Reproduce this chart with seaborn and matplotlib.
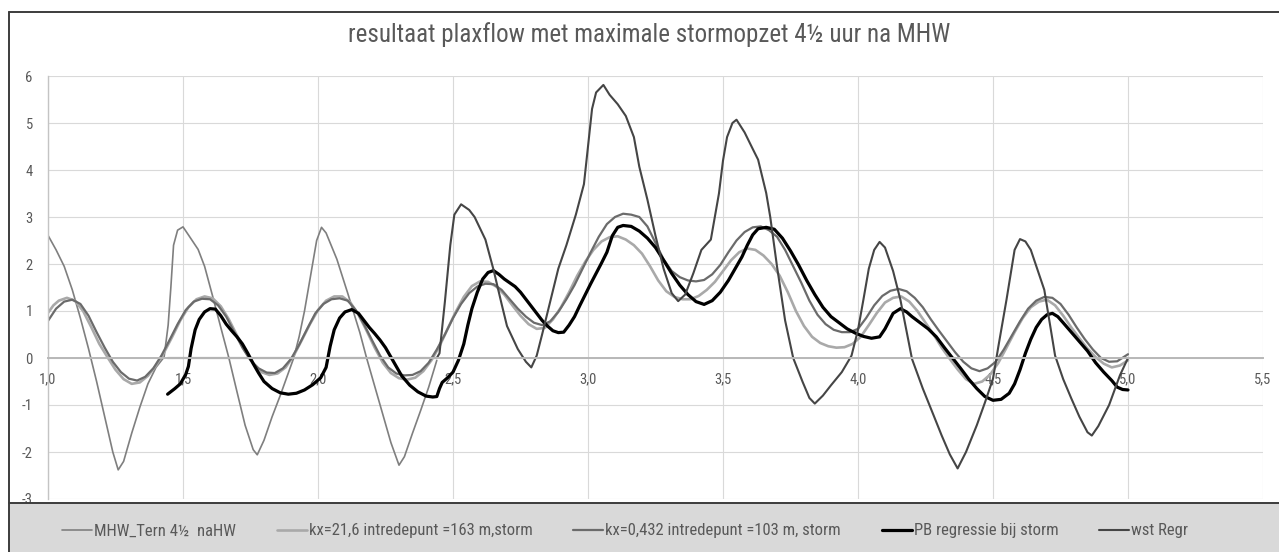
import matplotlib
matplotlib.use("Agg")
import matplotlib.pyplot as plt
from matplotlib import font_manager
from matplotlib.patches import Rectangle
from matplotlib.lines import Line2D
import seaborn as sns

# ---------------------------------------------------------------- data
mhw_x = [1.00, 1.03, 1.06, 1.09, 1.12, 1.15, 1.18, 1.21, 1.24, 1.26, 1.28, 1.31, 1.34, 1.37,
         1.40, 1.43, 1.445, 1.455, 1.465, 1.48, 1.50, 1.52, 1.556, 1.58, 1.61, 1.64, 1.67,
         1.70, 1.73, 1.76, 1.775, 1.80, 1.83, 1.86, 1.89, 1.91, 1.93, 1.95, 1.98, 1.995,
         2.013, 2.03, 2.07, 2.11, 2.155, 2.18, 2.21, 2.24, 2.27, 2.30, 2.32, 2.35, 2.38,
         2.41, 2.44]
mhw_y = [2.61, 2.30, 1.95, 1.45, 0.85, 0.20, -0.50, -1.25, -2.00, -2.38, -2.20, -1.60, -1.05,
         -0.55, -0.20, 0.02, 0.70, 1.50, 2.40, 2.72, 2.79, 2.62, 2.31, 1.95, 1.31, 0.65, 0.00,
         -0.72, -1.43, -1.95, -2.06, -1.75, -1.25, -0.80, -0.32, 0.00, 0.45, 1.00, 2.00, 2.50,
         2.78, 2.66, 2.10, 1.38, 0.54, 0.00, -0.60, -1.20, -1.80, -2.28, -2.10, -1.60, -1.12,
         -0.62, -0.05]

kx216_x = [1.00, 1.02, 1.04, 1.07, 1.10, 1.13, 1.16, 1.19, 1.22, 1.25, 1.28, 1.31, 1.34, 1.37,
           1.40, 1.43, 1.46, 1.49, 1.52, 1.55, 1.58, 1.61, 1.64, 1.67, 1.70, 1.73, 1.76, 1.79,
           1.82, 1.85, 1.88, 1.91, 1.94, 1.97, 2.00, 2.03, 2.06, 2.09, 2.12, 2.15, 2.18, 2.21,
           2.24, 2.27, 2.30, 2.33, 2.36, 2.39, 2.42, 2.45, 2.48, 2.51, 2.54, 2.57, 2.60, 2.63,
           2.66, 2.69, 2.72, 2.75, 2.78, 2.81, 2.84, 2.87, 2.90, 2.93, 2.96, 2.99, 3.02, 3.05,
           3.08, 3.11, 3.14, 3.17, 3.20, 3.23, 3.26, 3.29, 3.32, 3.35, 3.38, 3.41, 3.44, 3.47,
           3.50, 3.53, 3.56, 3.59, 3.62, 3.65, 3.68, 3.71, 3.74, 3.77, 3.80, 3.83, 3.86, 3.89,
           3.92, 3.95, 3.98, 4.01, 4.04, 4.07, 4.10, 4.13, 4.16, 4.19, 4.22, 4.25, 4.28, 4.31,
           4.34, 4.37, 4.40, 4.43, 4.46, 4.49, 4.52, 4.55, 4.58, 4.61, 4.64, 4.67, 4.70, 4.73,
           4.76, 4.79, 4.82, 4.85, 4.88, 4.91, 4.94, 4.97, 5.00]
kx216_y = [0.96, 1.12, 1.22, 1.28, 1.22, 1.00, 0.66, 0.30, 0.02, -0.25, -0.45, -0.55, -0.52,
           -0.38, -0.16, 0.12, 0.45, 0.80, 1.08, 1.25, 1.31, 1.27, 1.10, 0.82, 0.48, 0.15,
           -0.12, -0.30, -0.36, -0.33, -0.20, 0.05, 0.38, 0.72, 1.02, 1.22, 1.31, 1.31, 1.18,
           0.92, 0.58, 0.22, -0.10, -0.32, -0.43, -0.46, -0.42, -0.28, -0.05, 0.25, 0.62, 0.98,
           1.30, 1.53, 1.63, 1.62, 1.52, 1.35, 1.12, 0.90, 0.72, 0.62, 0.64, 0.82, 1.08, 1.40,
           1.75, 2.05, 2.30, 2.48, 2.57, 2.59, 2.52, 2.40, 2.22, 1.95, 1.65, 1.42, 1.30, 1.25,
           1.25, 1.32, 1.45, 1.62, 1.85, 2.08, 2.25, 2.33, 2.30, 2.18, 2.00, 1.75, 1.40, 1.00,
           0.68, 0.45, 0.32, 0.25, 0.22, 0.23, 0.30, 0.45, 0.70, 0.96, 1.18, 1.28, 1.31, 1.20,
           1.00, 0.75, 0.50, 0.22, -0.02, -0.25, -0.45, -0.55, -0.50, -0.35, -0.10, 0.22, 0.55,
           0.85, 1.08, 1.20, 1.24, 1.12, 0.90, 0.65, 0.42, 0.20, 0.02, -0.12, -0.20, -0.16, -0.05]

kx0432_x = [1.00, 1.03, 1.06, 1.09, 1.12, 1.15, 1.18, 1.21, 1.24, 1.27, 1.30, 1.33, 1.36, 1.39,
            1.42, 1.45, 1.48, 1.51, 1.54, 1.57, 1.60, 1.63, 1.66, 1.69, 1.72, 1.75, 1.78, 1.81,
            1.84, 1.87, 1.90, 1.93, 1.96, 1.99, 2.02, 2.05, 2.08, 2.11, 2.14, 2.17, 2.20, 2.23,
            2.26, 2.29, 2.32, 2.35, 2.38, 2.41, 2.44, 2.47, 2.50, 2.53, 2.56, 2.59, 2.62, 2.65,
            2.68, 2.71, 2.74, 2.77, 2.80, 2.83, 2.86, 2.89, 2.92, 2.95, 2.98, 3.01, 3.04, 3.07,
            3.10, 3.13, 3.16, 3.19, 3.22, 3.25, 3.28, 3.31, 3.34, 3.37, 3.40, 3.43, 3.46, 3.49,
            3.52, 3.55, 3.58, 3.61, 3.64, 3.67, 3.70, 3.73, 3.76, 3.79, 3.82, 3.85, 3.88, 3.91,
            3.94, 3.97, 4.00, 4.03, 4.06, 4.09, 4.12, 4.15, 4.18, 4.21, 4.24, 4.27, 4.30, 4.33,
            4.36, 4.39, 4.42, 4.45, 4.48, 4.51, 4.54, 4.57, 4.60, 4.63, 4.66, 4.69, 4.72, 4.75,
            4.78, 4.81, 4.84, 4.87, 4.90, 4.93, 4.96, 5.00]
kx0432_y = [0.79, 1.05, 1.20, 1.24, 1.15, 0.90, 0.55, 0.22, -0.08, -0.30, -0.44, -0.48, -0.40,
            -0.22, 0.05, 0.38, 0.72, 1.02, 1.20, 1.26, 1.25, 1.12, 0.88, 0.55, 0.22, -0.05,
            -0.22, -0.31, -0.32, -0.22, -0.02, 0.28, 0.62, 0.95, 1.15, 1.25, 1.27, 1.22, 1.02,
            0.72, 0.38, 0.05, -0.20, -0.33, -0.37, -0.36, -0.28, -0.10, 0.18, 0.50, 0.85, 1.15,
            1.38, 1.52, 1.58, 1.57, 1.45, 1.25, 1.05, 0.88, 0.75, 0.70, 0.78, 0.98, 1.25, 1.55,
            1.90, 2.25, 2.58, 2.85, 3.00, 3.07, 3.05, 3.00, 2.80, 2.45, 2.10, 1.85, 1.72, 1.65,
            1.63, 1.66, 1.78, 1.98, 2.25, 2.50, 2.68, 2.78, 2.80, 2.72, 2.58, 2.30, 1.95, 1.60,
            1.22, 0.92, 0.72, 0.60, 0.55, 0.55, 0.62, 0.85, 1.12, 1.32, 1.43, 1.47, 1.42, 1.28,
            1.08, 0.82, 0.58, 0.35, 0.12, -0.08, -0.22, -0.28, -0.22, -0.08, 0.18, 0.48, 0.78,
            1.05, 1.22, 1.30, 1.28, 1.15, 0.92, 0.65, 0.40, 0.18, 0.00, -0.08, -0.07, 0.08]

pb_x = [1.443, 1.47, 1.49, 1.51, 1.52, 1.53, 1.545, 1.56, 1.58, 1.60, 1.62, 1.64, 1.66, 1.68,
        1.70, 1.72, 1.74, 1.76, 1.78, 1.80, 1.83, 1.86, 1.89, 1.92, 1.95, 1.98, 2.01, 2.03,
        2.045, 2.06, 2.08, 2.10, 2.125, 2.15, 2.17, 2.19, 2.21, 2.23, 2.25, 2.27, 2.29, 2.31,
        2.34, 2.37, 2.40, 2.425, 2.44, 2.45, 2.46, 2.48, 2.50, 2.52, 2.54, 2.555, 2.57, 2.59,
        2.61, 2.63, 2.65, 2.67, 2.69, 2.71, 2.73, 2.75, 2.77, 2.79, 2.81, 2.83, 2.85, 2.87,
        2.89, 2.91, 2.93, 2.95, 2.97, 2.99, 3.01, 3.03, 3.05, 3.07, 3.09, 3.11, 3.13, 3.16,
        3.19, 3.22, 3.25, 3.28, 3.31, 3.34, 3.37, 3.40, 3.43, 3.46, 3.49, 3.52, 3.55, 3.57,
        3.59, 3.61, 3.63, 3.66, 3.69, 3.72, 3.75, 3.78, 3.81, 3.84, 3.87, 3.90, 3.93, 3.96,
        3.99, 4.02, 4.05, 4.08, 4.10, 4.13, 4.157, 4.18, 4.20, 4.23, 4.26, 4.29, 4.32, 4.35,
        4.38, 4.41, 4.44, 4.47, 4.50, 4.53, 4.56, 4.58, 4.60, 4.62, 4.64, 4.66, 4.68, 4.70,
        4.72, 4.74, 4.76, 4.79, 4.82, 4.85, 4.88, 4.91, 4.94, 4.96, 4.98, 5.00]
pb_y = [-0.77, -0.65, -0.55, -0.35, -0.18, 0.20, 0.60, 0.82, 0.98, 1.05, 1.04, 0.90, 0.72,
        0.58, 0.45, 0.30, 0.10, -0.12, -0.32, -0.50, -0.65, -0.74, -0.77, -0.75, -0.68, -0.57,
        -0.42, -0.20, 0.25, 0.60, 0.85, 0.98, 1.03, 0.95, 0.80, 0.65, 0.52, 0.38, 0.22, 0.02,
        -0.18, -0.38, -0.58, -0.72, -0.81, -0.83, -0.82, -0.65, -0.52, -0.42, -0.30, -0.05,
        0.30, 0.70, 1.05, 1.40, 1.68, 1.82, 1.86, 1.78, 1.68, 1.60, 1.52, 1.40, 1.25, 1.10,
        0.95, 0.80, 0.68, 0.58, 0.54, 0.55, 0.70, 0.88, 1.12, 1.35, 1.58, 1.80, 2.02, 2.25,
        2.60, 2.78, 2.82, 2.80, 2.70, 2.55, 2.35, 2.08, 1.80, 1.55, 1.35, 1.20, 1.14, 1.22,
        1.40, 1.65, 1.95, 2.15, 2.40, 2.62, 2.75, 2.78, 2.74, 2.55, 2.28, 1.98, 1.65, 1.35,
        1.08, 0.88, 0.75, 0.62, 0.53, 0.46, 0.42, 0.45, 0.62, 0.95, 1.05, 0.98, 0.88, 0.75,
        0.62, 0.45, 0.22, 0.00, -0.22, -0.45, -0.65, -0.82, -0.90, -0.88, -0.75, -0.55, -0.25,
        0.10, 0.40, 0.65, 0.82, 0.92, 0.95, 0.88, 0.75, 0.55, 0.35, 0.15, -0.10, -0.30, -0.48,
        -0.62, -0.67, -0.68]

wst_x = [1.443, 2.44, 2.45, 2.47, 2.49, 2.505, 2.53, 2.56, 2.58, 2.62, 2.65, 2.68, 2.70, 2.74,
         2.77, 2.79, 2.81, 2.83, 2.86, 2.89, 2.92, 2.955, 2.985, 3.00, 3.015, 3.03, 3.057, 3.08,
         3.11, 3.14, 3.17, 3.19, 3.22, 3.25, 3.28, 3.31, 3.334, 3.36, 3.39, 3.42, 3.455, 3.485,
         3.50, 3.515, 3.535, 3.55, 3.58, 3.61, 3.63, 3.66, 3.675, 3.70, 3.73, 3.76, 3.795, 3.82,
         3.84, 3.87, 3.90, 3.94, 3.976, 4.00, 4.02, 4.04, 4.06, 4.08, 4.10, 4.13, 4.157, 4.20,
         4.24, 4.28, 4.31, 4.34, 4.369, 4.40, 4.44, 4.47, 4.50, 4.52, 4.55, 4.58, 4.60, 4.62,
         4.64, 4.69, 4.73, 4.76, 4.79, 4.82, 4.85, 4.866, 4.89, 4.93, 4.97, 5.00]
wst_y = [0.00, 0.00, 0.10, 1.20, 2.40, 3.05, 3.27, 3.15, 3.00, 2.52, 1.88, 1.15, 0.68, 0.19,
         -0.08, -0.20, 0.05, 0.50, 1.20, 1.90, 2.40, 3.05, 3.70, 4.50, 5.30, 5.65, 5.81, 5.60,
         5.40, 5.15, 4.70, 4.07, 3.37, 2.60, 1.90, 1.38, 1.21, 1.35, 1.80, 2.30, 2.52, 3.50,
         4.20, 4.70, 5.00, 5.07, 4.80, 4.45, 4.22, 3.51, 3.00, 1.95, 0.80, 0.00, -0.51, -0.85,
         -0.97, -0.80, -0.58, -0.30, 0.05, 0.60, 1.24, 1.90, 2.30, 2.47, 2.35, 1.85, 1.24, -0.02,
         -0.65, -1.22, -1.65, -2.05, -2.35, -2.00, -1.43, -0.95, -0.44, 0.25, 1.24, 2.30, 2.53,
         2.48, 2.30, 1.45, 0.05, -0.45, -0.86, -1.25, -1.58, -1.65, -1.45, -1.00, -0.37, 0.00]

series_labels = ["MHW_Tern 4½  naHW",
                 "kx=21,6 intredepunt =163 m,storm",
                 "kx=0,432 intredepunt =103 m, storm",
                 "PB regressie bij storm",
                 "wst Regr"]

x_ticks = [1.0, 1.5, 2.0, 2.5, 3.0, 3.5, 4.0, 4.5, 5.0, 5.5]
x_tick_labels = ["1,0", "1,5", "2,0", "2,5", "3,0", "3,5", "4,0", "4,5", "5,0", "5,5"]
y_ticks = [-3, -2, -1, 0, 1, 2, 3, 4, 5, 6]
y_tick_labels = ["-3", "-2", "-1", "0", "1", "2", "3", "4", "5", "6"]

title = "resultaat plaxflow met maximale stormopzet 4½ uur na MHW"

# ---------------------------------------------------------------- style
sns.set_theme(style="whitegrid")
available = {f.name for f in font_manager.fontManager.ttflist}
family = "DejaVu Sans"
for cand in ["Liberation Sans Narrow", "Roboto Condensed", "Roboto", "Liberation Sans"]:
    if cand in available:
        family = cand
        break
plt.rcParams["font.family"] = [family, "DejaVu Sans"]

W, H = 1279, 552
fig = plt.figure(figsize=(W / 100, H / 100), dpi=100, facecolor="white")
ax = fig.add_axes([48 / W, 1 - 499 / H, (1263 - 48) / W, (499 - 76) / H])
ax.set_facecolor("white")

text_grey = "#595959"

series = [
    (mhw_x, mhw_y, "#7f7f7f", 1.2),
    (kx216_x, kx216_y, "#a9a9a9", 1.9),
    (kx0432_x, kx0432_y, "#6b6b6b", 1.6),
    (pb_x, pb_y, "#000000", 2.3),
    (wst_x, wst_y, "#454545", 1.5),
]
for (xs, ys, col, lw), lab in zip(series, series_labels):
    sns.lineplot(x=xs, y=ys, ax=ax, color=col, linewidth=lw, label=lab,
                 sort=False, estimator=None)

handles, labels = ax.get_legend_handles_labels()
ax.get_legend().remove()

ax.set_xlim(1.0, 5.5)
ax.set_ylim(-3, 6)
ax.set_xticks(x_ticks)
ax.set_xticklabels(x_tick_labels)
ax.set_yticks(y_ticks)
ax.set_yticklabels(y_tick_labels)
ax.set_xlabel("")
ax.set_ylabel("")
ax.grid(True, color="#d9d9d9", linewidth=0.8)
ax.set_axisbelow(True)

for side in ["top", "right"]:
    ax.spines[side].set_visible(False)
ax.spines["left"].set_color("#c4c4c4")
ax.spines["left"].set_linewidth(1.0)
ax.spines["bottom"].set_position(("data", 0))
ax.spines["bottom"].set_color("#b8b8b8")
ax.spines["bottom"].set_linewidth(1.4)

ax.tick_params(axis="both", length=0, labelsize=10.5, labelcolor=text_grey)
ax.tick_params(axis="x", pad=10)
ax.tick_params(axis="y", pad=11)

# chart title
fig.text(649 / W, 1 - 35 / H, title, ha="center", va="center",
         fontsize=18, color=text_grey)

# outer chart frame (top and left edges)
fig.add_artist(Line2D([9 / W, 9 / W], [0, 1 - 12 / H], color="#3c3c3c", lw=1.4,
                      transform=fig.transFigure, zorder=10))
fig.add_artist(Line2D([9 / W, 1], [1 - 12 / H, 1 - 12 / H], color="#3c3c3c", lw=1.4,
                      transform=fig.transFigure, zorder=10))

# grey legend band at the bottom
fig.add_artist(Rectangle((9 / W, 0), 1 - 9 / W, (H - 503) / H, transform=fig.transFigure,
                         facecolor="#d9d9d9", edgecolor="none", zorder=8))
fig.add_artist(Line2D([9 / W, 1], [1 - 503 / H, 1 - 503 / H], color="#3c3c3c", lw=1.4,
                      transform=fig.transFigure, zorder=10))

leg = fig.legend(handles, labels, ncol=5, loc="center left",
                 bbox_to_anchor=(62 / W, 1 - 531 / H), frameon=False,
                 fontsize=12, labelcolor=text_grey, handlelength=1.8,
                 handletextpad=0.12, columnspacing=2.45, borderpad=0,
                 borderaxespad=0)
leg.set_zorder(12)

fig.savefig("out.png", dpi=100, facecolor="white")
